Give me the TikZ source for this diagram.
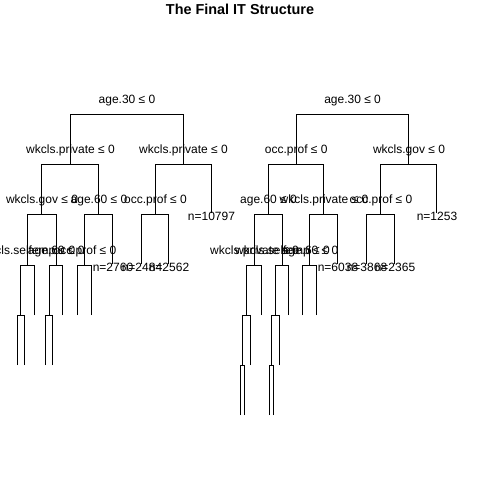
\documentclass[tikz,border=0pt]{standalone}
\usepackage{fontspec}
\setmainfont{Liberation Sans}
\begin{document}
\begin{tikzpicture}[x=0.75pt, y=-0.75pt,
  splitlab/.style={anchor=base, yshift=8.25pt, inner sep=0pt, font=\fontsize{9}{10}\selectfont},
  leaflab/.style={anchor=base, yshift=-5.25pt, inner sep=0pt, font=\fontsize{9}{10}\selectfont},
  branch/.style={-, line width=0.75pt, draw=black, to path={|- (\tikztotarget)}}]
\useasboundingbox[fill=white] (0,0) rectangle (480,480);
\node[anchor=base, inner sep=0pt, font=\bfseries\fontsize{10.8}{12}\selectfont] (title) at (240,14) {The Final IT Structure};
% left tree
\coordinate (L1) at (127,114);
\coordinate (L2) at (70.5,164);
\coordinate (L3) at (183.5,164);
\coordinate (L4) at (42,214);
\coordinate (L5) at (99,214);
\coordinate (L6) at (155.5,214);
\coordinate (L7) at (211.5,213);
\coordinate (L8) at (28,265);
\coordinate (L9) at (56.25,265);
\coordinate (L10) at (85,265);
\coordinate (L11) at (113,264);
\coordinate (L12) at (142,264);
\coordinate (L13) at (169,264);
\coordinate (L14) at (21,315);
\coordinate (L15) at (35,315);
\coordinate (L16) at (17.5,365);
\coordinate (L17) at (24.5,365);
\coordinate (L18) at (49.5,315);
\coordinate (L19) at (63,315);
\coordinate (L20) at (46,365);
\coordinate (L21) at (53,365);
\coordinate (L22) at (78,315);
\coordinate (L23) at (92,315);
\node[splitlab] (s1) at (L1) {age.30 ≤ 0};
\node[splitlab] (s2) at (L2) {wkcls.private ≤ 0};
\node[splitlab] (s3) at (L3) {wkcls.private ≤ 0};
\node[splitlab] (s4) at (L4) {wkcls.gov ≤ 0};
\node[splitlab] (s5) at (L5) {age.60 ≤ 0};
\node[splitlab] (s6) at (L6) {occ.prof ≤ 0};
\node[splitlab] (s8) at (L8) {wkcls.selfemp ≤ 0};
\node[splitlab] (s9) at (L9) {age.60 ≤ 0};
\node[splitlab] (s10) at (L10) {occ.prof ≤ 0};
\node[leaflab] (n7) at (L7) {n=10797};
\node[leaflab] (n11) at (L11) {n=2760};
\node[leaflab] (n12) at (L12) {n=2484};
\node[leaflab] (n13) at (L13) {n=2562};
\path [branch] (L2) edge (L1);
\path [branch] (L3) edge (L1);
\path [branch] (L4) edge (L2);
\path [branch] (L5) edge (L2);
\path [branch] (L6) edge (L3);
\path [branch] (L7) edge (L3);
\path [branch] (L8) edge (L4);
\path [branch] (L9) edge (L4);
\path [branch] (L10) edge (L5);
\path [branch] (L11) edge (L5);
\path [branch] (L12) edge (L6);
\path [branch] (L13) edge (L6);
\path [branch] (L14) edge (L8);
\path [branch] (L15) edge (L8);
\path [branch] (L16) edge (L14);
\path [branch] (L17) edge (L14);
\path [branch] (L18) edge (L9);
\path [branch] (L19) edge (L9);
\path [branch] (L20) edge (L18);
\path [branch] (L21) edge (L18);
\path [branch] (L22) edge (L10);
\path [branch] (L23) edge (L10);
% right tree
\coordinate (R1) at (352.6,114);
\coordinate (R2) at (296.25,164);
\coordinate (R3) at (409,164);
\coordinate (R4) at (268.5,214);
\coordinate (R5) at (324,214);
\coordinate (R6) at (381,214);
\coordinate (R7) at (437,213);
\coordinate (R8) at (254.5,265);
\coordinate (R9) at (282.5,265);
\coordinate (R10) at (310,265);
\coordinate (R11) at (338,264);
\coordinate (R12) at (367,264);
\coordinate (R13) at (395,264);
\coordinate (R14) at (247,315);
\coordinate (R15) at (262,315);
\coordinate (R16) at (276,315);
\coordinate (R17) at (289,315);
\coordinate (R18) at (303,315);
\coordinate (R19) at (317,315);
\coordinate (R20) at (243,365);
\coordinate (R21) at (251,365);
\coordinate (R22) at (272,365);
\coordinate (R23) at (280,365);
\coordinate (R24) at (241,415);
\coordinate (R25) at (245,415);
\coordinate (R26) at (270,415);
\coordinate (R27) at (274,415);
\node[splitlab] (t1) at (R1) {age.30 ≤ 0};
\node[splitlab] (t2) at (R2) {occ.prof ≤ 0};
\node[splitlab] (t3) at (R3) {wkcls.gov ≤ 0};
\node[splitlab] (t4) at (R4) {age.60 ≤ 0};
\node[splitlab] (t5) at (R5) {wkcls.private ≤ 0};
\node[splitlab] (t6) at (R6) {occ.prof ≤ 0};
\node[splitlab] (t8) at (R8) {wkcls.private ≤ 0};
\node[splitlab] (t9) at (R9) {wkcls.selfemp ≤ 0};
\node[splitlab] (t10) at (R10) {age.60 ≤ 0};
\node[leaflab] (m7) at (R7) {n=1253};
\node[leaflab] (m11) at (R11) {n=6038};
\node[leaflab] (m12) at (R12) {n=3868};
\node[leaflab] (m13) at (R13) {n=2365};
\path [branch] (R2) edge (R1);
\path [branch] (R3) edge (R1);
\path [branch] (R4) edge (R2);
\path [branch] (R5) edge (R2);
\path [branch] (R6) edge (R3);
\path [branch] (R7) edge (R3);
\path [branch] (R8) edge (R4);
\path [branch] (R9) edge (R4);
\path [branch] (R10) edge (R5);
\path [branch] (R11) edge (R5);
\path [branch] (R12) edge (R6);
\path [branch] (R13) edge (R6);
\path [branch] (R14) edge (R8);
\path [branch] (R15) edge (R8);
\path [branch] (R16) edge (R9);
\path [branch] (R17) edge (R9);
\path [branch] (R18) edge (R10);
\path [branch] (R19) edge (R10);
\path [branch] (R20) edge (R14);
\path [branch] (R21) edge (R14);
\path [branch] (R22) edge (R16);
\path [branch] (R23) edge (R16);
\path [branch] (R24) edge (R20);
\path [branch] (R25) edge (R20);
\path [branch] (R26) edge (R22);
\path [branch] (R27) edge (R22);
\end{tikzpicture}
\end{document}
